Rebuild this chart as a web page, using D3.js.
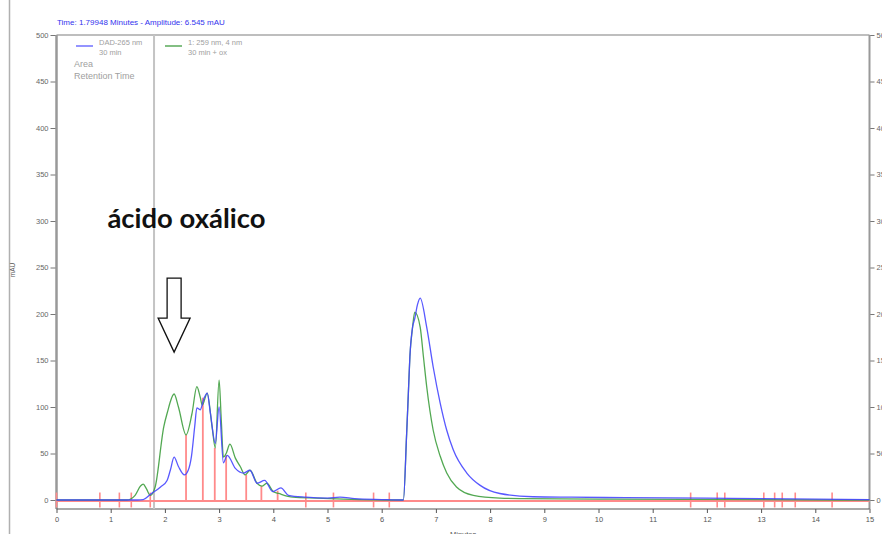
<!DOCTYPE html>
<html>
<head>
<meta charset="utf-8">
<script src="https://cdn.jsdelivr.net/npm/d3@7"></script>
<style>
  html, body { margin: 0; padding: 0; background: #fff; }
  svg { display: block; }
  text { font-family: "Liberation Sans", Arial, sans-serif; }
</style>
</head>
<body>
<svg id="chart" width="882" height="534"></svg>
<script>
// ---- chromatogram data (time in minutes, signal in mAU) ----
const blueTimes  = [0, 1.50, 1.60, 1.73, 1.92, 2.04, 2.10, 2.17, 2.25, 2.36, 2.43, 2.49, 2.55, 2.59, 2.65, 2.72, 2.78, 2.84, 2.93, 3.00, 3.08, 3.15, 3.30, 3.45, 3.57, 3.70, 3.84, 3.99, 4.14, 4.28, 4.60, 5.00, 5.23, 5.50, 6.00, 6.40, 6.46, 6.49, 6.52, 6.57, 6.61, 6.66, 6.71, 6.83, 6.95, 7.08, 7.20, 7.32, 7.57, 7.81, 8.18, 8.79, 9.50, 10.50, 12.00, 13.00, 14.00, 15.00];
const blueValues = [0, 0,    0.5,  6,    14,   21,   32,   46,   36,   27,   32,   47,   79,   99,   97,   109,  115,  93,   61,   100,  40,   48,   34,   29,   32,   18,   21,   9,    13,   5,    3,    2,    3,    1.5,  0.5,  0,    71,   112,  154,  186,  195,  210,  217,  186,  143,  104,  75,   54,   29,   16,   7,    3.5,  3,    2.5,   2,     1.5,   1,     0.5];

const greenTimes  = [0, 1.30, 1.45, 1.55, 1.60, 1.66, 1.73, 1.82, 1.98, 2.04, 2.17, 2.25, 2.39, 2.50, 2.59, 2.65, 2.69, 2.78, 2.87, 2.93, 3.00, 3.04, 3.08, 3.13, 3.20, 3.30, 3.39, 3.48, 3.57, 3.70, 3.79, 3.88, 4.00, 4.10, 4.36, 4.80, 5.30, 6.20, 6.40, 6.46, 6.49, 6.52, 6.57, 6.61, 6.71, 6.77, 6.83, 6.95, 7.08, 7.20, 7.38, 7.69, 8.18, 8.60, 10.00, 14.50, 15.00];
const greenValues = [0, 0,    5,    15,   17,   12,   5,    14,   79,   93,   114,  100,  70,   93,   122,  111,  102,  115,  79,   56,   129,  86,   46,   50,   60,   45,   36,   27,   32,   18,   15,   18,   9,    7,    3,    2,    1,    0,    0,    71,   112,  154,  186,  202,  186,  154,  122,  75,   47,   29,   14,   5,    2,    1.5,  1,     0,     0];

// integration markers: drop lines reaching the signal, and short baseline ticks
const dropTimes   = [2.39, 2.70, 2.92, 3.13, 3.50, 3.78, 4.08];
const dropHeights = [70,   110,  56,   48,   27,   15,   10];
const tickTimes   = [0, 0.80, 1.16, 1.38, 1.73, 4.60, 5.11, 5.85, 6.14, 11.70, 12.19, 12.33, 13.05, 13.25, 13.39, 13.63, 14.31];

// axes
const xTicks = d3.range(0, 16, 1);
const yTicks = d3.range(0, 501, 50);

// cursor readout
const cursorTime = 1.79948;
const cursorAmp = 6.545;

// legend
const legendSeries = [
  { name: "DAD-265 nm", sub: "30 min", color: "#7070ff" },
  { name: "1: 259 nm, 4 nm", sub: "30 min + ox", color: "#5aaa5a" }
];

// annotation
const noteText = "ácido oxálico";
const noteAnchor = { t: 0.94, v: 293 };   // text baseline start
const arrowTip = { t: 2.17, v: 159 };     // arrow point

const svg = d3.select("#chart");
const W = 882, H = 534;

const x = d3.scaleLinear().domain([0, 15]).range([56.5, 869.5]);
const y = d3.scaleLinear().domain([0, 500]).range([500, 35]);
const axisY = 509;

// outer left rule
svg.append("line").attr("x1", 9.5).attr("x2", 9.5).attr("y1", 0).attr("y2", H)
  .attr("stroke", "#b0b0b0").attr("stroke-width", 1.5);

// frame
svg.append("line").attr("x1", x(0)).attr("x2", x(15)).attr("y1", 35).attr("y2", 35)
  .attr("stroke", "#a8a8a8").attr("stroke-width", 1.5);

// left axis
const gL = svg.append("g").attr("transform", `translate(${x(0)},0)`);
gL.call(d3.axisLeft(y).tickValues(d3.range(0, 501, 10)).tickSize(3).tickFormat(""))
  .call(g => g.select(".domain").remove());
gL.call(d3.axisLeft(y).tickValues(yTicks).tickSize(6).tickPadding(2).tickFormat(d3.format("d")))
  .call(g => g.select(".domain").remove());
gL.selectAll("line").attr("stroke", "#777");
gL.selectAll("text").attr("fill", "#666").style("font-size", "7.5px");
svg.append("line").attr("x1", x(0)).attr("x2", x(0)).attr("y1", 35).attr("y2", axisY)
  .attr("stroke", "#999").attr("stroke-width", 2.5);

// right axis
const gR = svg.append("g").attr("transform", `translate(${x(15)},0)`);
gR.call(d3.axisRight(y).tickValues(d3.range(0, 501, 10)).tickSize(3).tickFormat(""))
  .call(g => g.select(".domain").remove());
gR.call(d3.axisRight(y).tickValues(yTicks).tickSize(5).tickPadding(2).tickFormat(d3.format("d")))
  .call(g => g.select(".domain").remove());
gR.selectAll("line").attr("stroke", "#777");
gR.selectAll("text").attr("fill", "#666").style("font-size", "7.5px");
svg.append("line").attr("x1", x(15)).attr("x2", x(15)).attr("y1", 35).attr("y2", axisY)
  .attr("stroke", "#999").attr("stroke-width", 2);

// bottom axis
const gB = svg.append("g").attr("transform", `translate(0,${axisY})`);
gB.call(d3.axisBottom(x).tickValues(d3.range(0, 15.001, 0.1)).tickSize(2.5).tickFormat(""))
  .call(g => g.select(".domain").remove());
gB.call(d3.axisBottom(x).tickValues(xTicks).tickSize(4).tickPadding(4).tickFormat(d3.format("d")))
  .call(g => g.select(".domain").remove());
gB.selectAll("line").attr("stroke", "#555");
gB.selectAll("text").attr("fill", "#555").style("font-size", "7.5px");
svg.append("line").attr("x1", x(0)).attr("x2", x(15)).attr("y1", axisY).attr("y2", axisY)
  .attr("stroke", "#555").attr("stroke-width", 1.2);

// axis titles
svg.append("text").attr("x", 450).attr("y", 537).attr("fill", "#555")
  .style("font-size", "7.5px").text("Minutes");
svg.append("text").attr("transform", "translate(15,270) rotate(-90)")
  .attr("text-anchor", "middle").attr("fill", "#555").style("font-size", "6.5px").text("mAU");

// cursor line
svg.append("line").attr("x1", x(cursorTime)).attr("x2", x(cursorTime))
  .attr("y1", 35).attr("y2", axisY).attr("stroke", "#c4c4c4").attr("stroke-width", 2);

// header readout
svg.append("text").attr("x", 57).attr("y", 25).attr("fill", "#3333ee")
  .style("font-size", "8px")
  .text(`Time:  ${cursorTime} Minutes - Amplitude:  ${cursorAmp} mAU`);

// integration baseline and markers
const red = "#ff8a8a";
svg.append("line").attr("x1", x(0)).attr("x2", x(15)).attr("y1", y(0) + 1).attr("y2", y(0) + 1)
  .attr("stroke", red).attr("stroke-width", 2);
svg.append("g").selectAll("line").data(tickTimes).join("line")
  .attr("x1", d => x(d)).attr("x2", d => x(d))
  .attr("y1", y(8)).attr("y2", y(-8))
  .attr("stroke", red).attr("stroke-width", 1.6);
svg.append("g").selectAll("line").data(dropTimes).join("line")
  .attr("x1", d => x(d)).attr("x2", d => x(d))
  .attr("y1", (d, i) => y(dropHeights[i])).attr("y2", y(0))
  .attr("stroke", red).attr("stroke-width", 1.8);

// signal traces
const line = d3.line().curve(d3.curveMonotoneX).x(d => x(d[0])).y(d => y(d[1]));
const greenPts = greenTimes.map((t, i) => [t, greenValues[i]]);
const bluePts = blueTimes.map((t, i) => [t, blueValues[i]]);
svg.append("path").datum(greenPts).attr("d", line)
  .attr("fill", "none").attr("stroke", "#3f9f3f").attr("stroke-width", 1.3).attr("stroke-opacity", 0.9);
svg.append("path").datum(bluePts).attr("d", line)
  .attr("fill", "none").attr("stroke", "#4646ff").attr("stroke-width", 1.3).attr("stroke-opacity", 0.9);

// legend
const lg = svg.append("g");
legendSeries.forEach((s, i) => {
  const lx = i === 0 ? 76 : 165;
  lg.append("line").attr("x1", lx).attr("x2", lx + 17).attr("y1", 46).attr("y2", 46)
    .attr("stroke", s.color).attr("stroke-width", 1.5);
  lg.append("text").attr("x", lx + (i === 0 ? 23 : 23)).attr("y", 44.5).attr("fill", "#a0a0a0")
    .style("font-size", "7.5px").text(s.name);
  lg.append("text").attr("x", lx + (i === 0 ? 23 : 23)).attr("y", 54.5).attr("fill", "#a0a0a0")
    .style("font-size", "7.5px").text(s.sub);
});
lg.append("text").attr("x", 74).attr("y", 67).attr("fill", "#a0a0a0").style("font-size", "9px").text("Area");
lg.append("text").attr("x", 74).attr("y", 79).attr("fill", "#a0a0a0").style("font-size", "9px").text("Retention Time");

// annotation: label and outlined down arrow
svg.append("text").attr("x", x(noteAnchor.t)).attr("y", y(noteAnchor.v))
  .attr("fill", "#111").style("font-family", "Lato, 'Open Sans', sans-serif")
  .style("font-weight", "700").style("font-size", "26px")
  .attr("textLength", 158).attr("lengthAdjust", "spacingAndGlyphs").text(noteText);

const tx = x(arrowTip.t), ty = y(arrowTip.v);
const arrow = [
  [tx - 7, ty - 74], [tx + 7, ty - 74], [tx + 7, ty - 34], [tx + 16, ty - 34],
  [tx, ty], [tx - 16, ty - 34], [tx - 7, ty - 34]
];
svg.append("path").attr("d", d3.line()(arrow) + "Z")
  .attr("fill", "#fff").attr("stroke", "#111").attr("stroke-width", 1.3);
</script>
</body>
</html>
